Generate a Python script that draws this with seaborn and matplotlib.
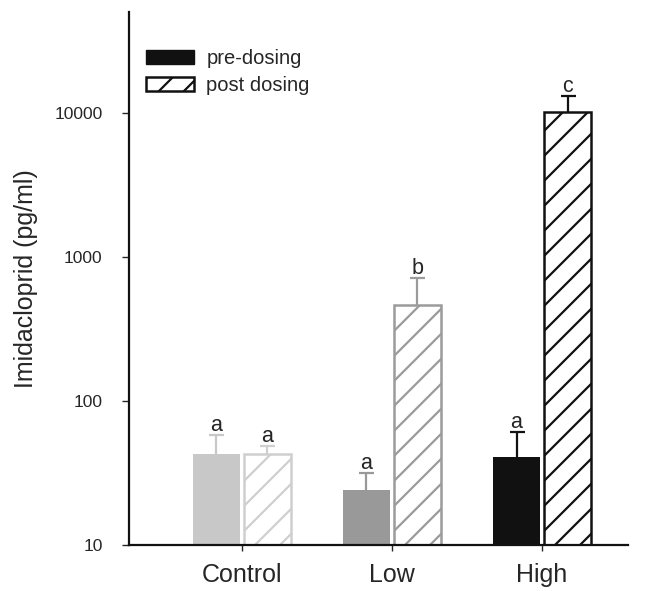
import pandas as pd
import seaborn as sns
import matplotlib.pyplot as plt
from matplotlib.patches import Patch
from matplotlib.path import Path
from matplotlib.backend_bases import GraphicsContextBase


# denser hatch than matplotlib's default so the spacing matches the original
def custom_hatch(self, density=8):
    hatch = self.get_hatch()
    if hatch is None:
        return None
    return Path.hatch(hatch, density)


GraphicsContextBase.get_hatch_path = custom_hatch

groups = ["Control", "Low", "High"]
pre_mean = [42.5, 24.0, 40.9]
pre_sem = [15.3, 7.4, 19.5]
post_mean = [42.5, 460, 10180]
post_sem = [6.3, 248, 2820]
pre_letters = ["a", "a", "a"]
post_letters = ["a", "b", "c"]
group_colors = ["#c8c8c8", "#999999", "#111111"]
post_edge = ["#cfcfcf", "#9b9b9b", "#111111"]

df = pd.DataFrame({
    "group": groups * 2,
    "phase": ["pre-dosing"] * 3 + ["post dosing"] * 3,
    "value": pre_mean + post_mean,
    "sem": pre_sem + post_sem,
    "letter": pre_letters + post_letters,
})

sns.set_style("ticks")
plt.rcParams["font.family"] = ["Liberation Sans", "DejaVu Sans"]
plt.rcParams["hatch.linewidth"] = 1.6

fig = plt.figure(figsize=(6.53, 5.91), dpi=100)
ax = fig.add_axes([0.1975, 0.0778, 0.7642, 0.9019])
ax.set_yscale("log")

sns.barplot(
    data=df, x="group", y="value", hue="phase",
    errorbar=None, width=0.68, gap=0.08, legend=False, ax=ax
)

# bars sorted left to right: Control pre, Control post, Low pre, ...
bars = sorted(ax.patches, key=lambda p: p.get_x())
for i, p in enumerate(bars):
    g = i // 2
    row = df[(df["group"] == groups[g]) &
             (df["phase"] == ("pre-dosing" if i % 2 == 0 else "post dosing"))].iloc[0]
    if i % 2 == 0:
        color = group_colors[g]
        p.set_facecolor(color)
        p.set_edgecolor(color)
        p.set_linewidth(0)
    else:
        color = post_edge[g]
        p.set_facecolor("white")
        p.set_edgecolor(color)
        p.set_linewidth(1.8)
        p.set_hatch("/")
    xc = p.get_x() + p.get_width() / 2
    h = p.get_height()
    eb = ax.errorbar(xc, h, yerr=[[0], [row["sem"]]], fmt="none", ecolor=color,
                     elinewidth=1.6, capsize=5.4, capthick=1.6, zorder=1)
    eb[1][0].set_visible(False)  # no cap at the bar top
    ax.annotate(row["letter"], (xc, h + row["sem"]), xytext=(0, 3),
                textcoords="offset points", ha="center", va="baseline",
                fontsize=15.5)

ax.set_ylim(10, 50000)
ax.set_xlim(-0.753, 2.573)
ax.set_yticks([10, 100, 1000, 10000])
ax.set_yticklabels(["10", "100", "1000", "10000"])
ax.minorticks_off()

ax.set_xlabel("")
ax.set_ylabel("Imidacloprid (pg/ml)", fontsize=18, labelpad=12)
ax.tick_params(axis="x", labelsize=18, length=4, width=1, pad=9)
ax.tick_params(axis="y", labelsize=12.5, length=5, width=1, pad=14)

for side in ["top", "right"]:
    ax.spines[side].set_visible(False)
for side in ["left", "bottom"]:
    ax.spines[side].set_linewidth(1.6)
    ax.spines[side].set_color("#111111")

handles = [
    Patch(facecolor="#111111", edgecolor="#111111", label="pre-dosing"),
    Patch(facecolor="white", edgecolor="#111111", hatch="/", linewidth=1.8,
          label="post dosing"),
]
ax.legend(handles=handles, loc="upper left", bbox_to_anchor=(0.034, 0.93),
          frameon=False, fontsize=14.5, handlelength=2.4, handleheight=0.7,
          handletextpad=0.6, labelspacing=0.4, borderpad=0, borderaxespad=0)

plt.savefig("out.png", dpi=100)
